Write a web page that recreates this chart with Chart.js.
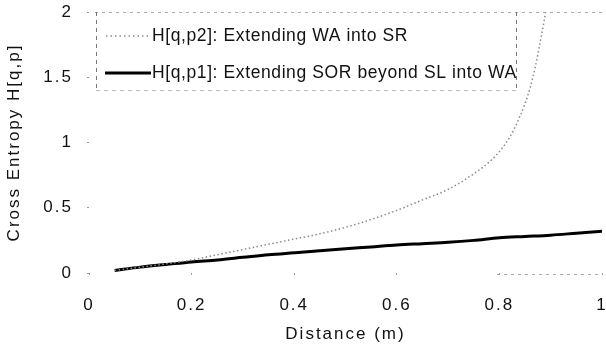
<!DOCTYPE html>
<html>
<head>
<meta charset="utf-8">
<script src="https://cdn.jsdelivr.net/npm/chart.js@4/dist/chart.umd.min.js"></script>
<style>
  html, body { margin: 0; padding: 0; background: #fff; overflow: hidden; }
  #wrap { width: 606px; height: 349px; }
</style>
</head>
<body>
<div id="wrap"><canvas id="entropyChart"></canvas></div>
<script>
// values
const distanceP1 = [0.05, 0.1, 0.15, 0.2, 0.25, 0.3, 0.35, 0.4, 0.45, 0.5, 0.55, 0.6, 0.65, 0.7, 0.75, 0.8, 0.85, 0.9, 0.95, 1.0];
const entropyP1 = [0.02, 0.045, 0.065, 0.085, 0.10, 0.12, 0.14, 0.155, 0.17, 0.185, 0.20, 0.215, 0.225, 0.235, 0.25, 0.27, 0.28, 0.29, 0.305, 0.32];

const distanceP2 = [0.05, 0.1, 0.15, 0.2, 0.25, 0.3, 0.35, 0.4, 0.45, 0.5, 0.55, 0.6, 0.65, 0.7, 0.75, 0.78, 0.8, 0.82, 0.84, 0.85, 0.86, 0.87, 0.88, 0.89, 0.9];
const entropyP2 = [0.02, 0.045, 0.07, 0.10, 0.14, 0.18, 0.22, 0.26, 0.30, 0.35, 0.41, 0.48, 0.56, 0.64, 0.76, 0.85, 0.93, 1.04, 1.2, 1.3, 1.42, 1.58, 1.78, 2.0, 2.3];

const xTicks = [0, 0.2, 0.4, 0.6, 0.8, 1];
const yTicks = [0, 0.5, 1, 1.5, 2];

const legendLabels = ['H[q,p2]: Extending WA into SR', 'H[q,p1]: Extending SOR beyond SL into WA'];

const FONT = '"Liberation Sans", Arial, sans-serif';

function toPoints(xs, ys) {
    return xs.map((x, i) => ({ x: x, y: ys[i] }));
}

// letter spacing like the scanned figure
const spacingPlugin = {
    id: 'spacing',
    beforeInit(chart) { chart.ctx.letterSpacing = '2px'; },
    beforeDraw(chart) { chart.ctx.letterSpacing = '2px'; }
};

// dashed frame bits + legend box inside the plot
const frameLegendPlugin = {
    id: 'frameLegend',
    afterDatasetsDraw(chart) {
        const ctx = chart.ctx;
        const area = chart.chartArea;
        ctx.save();
        ctx.letterSpacing = '0.6px';

        // faint dashed top edge
        ctx.strokeStyle = '#aaa';
        ctx.lineWidth = 1;
        ctx.setLineDash([3, 4]);
        ctx.beginPath();
        ctx.moveTo(area.left + 6, area.top + 0.5);
        ctx.lineTo(area.right, area.top + 0.5);
        ctx.moveTo(area.right - 105, area.bottom + 1.5);
        ctx.lineTo(area.right, area.bottom + 1.5);
        ctx.stroke();

        // legend box
        const bx = area.left + 7, by = area.top, bw = 420, bh = 78;
        ctx.strokeStyle = '#777';
        ctx.setLineDash([4, 4]);
        ctx.beginPath();
        ctx.moveTo(bx + 0.5, by);
        ctx.lineTo(bx + 0.5, by + bh);
        ctx.moveTo(bx + bw + 0.5, by);
        ctx.lineTo(bx + bw + 0.5, by + bh);
        ctx.stroke();
        ctx.strokeStyle = '#bbb';
        ctx.beginPath();
        ctx.moveTo(bx, by + bh + 0.5);
        ctx.lineTo(bx + bw, by + bh + 0.5);
        ctx.stroke();

        const rows = [by + 24, by + 61];
        const ds = chart.data.datasets;
        // p2 sample (dotted)
        ctx.strokeStyle = ds[0].borderColor;
        ctx.lineWidth = 1.5;
        ctx.setLineDash([1.5, 3]);
        ctx.beginPath();
        ctx.moveTo(bx + 10, rows[0]);
        ctx.lineTo(bx + 55, rows[0]);
        ctx.stroke();
        // p1 sample (solid)
        ctx.strokeStyle = ds[1].borderColor;
        ctx.lineWidth = 3;
        ctx.setLineDash([]);
        ctx.beginPath();
        ctx.moveTo(bx + 9, rows[1]);
        ctx.lineTo(bx + 55, rows[1]);
        ctx.stroke();

        ctx.fillStyle = '#111';
        ctx.font = '17.5px ' + FONT;
        ctx.textAlign = 'left';
        ctx.textBaseline = 'middle';
        ctx.fillText(legendLabels[0], bx + 56, rows[0]);
        ctx.fillText(legendLabels[1], bx + 56, rows[1]);
        ctx.restore();
    }
};

const ctx = document.getElementById('entropyChart').getContext('2d');
new Chart(ctx, {
    type: 'line',
    data: {
        datasets: [{
            label: legendLabels[0],
            data: toPoints(distanceP2, entropyP2),
            borderColor: '#8a8a8a',
            borderWidth: 1.5,
            borderDash: [1.5, 2.5],
            pointRadius: 0,
            cubicInterpolationMode: 'monotone',
            fill: false
        }, {
            label: legendLabels[1],
            data: toPoints(distanceP1, entropyP1),
            borderColor: '#000',
            borderWidth: 3,
            pointRadius: 0,
            cubicInterpolationMode: 'monotone',
            fill: false
        }]
    },
    options: {
        responsive: true,
        maintainAspectRatio: false,
        animation: false,
        events: [],
        layout: { padding: { top: 12, right: 4, left: 0, bottom: 0 } },
        plugins: {
            legend: { display: false },
            tooltip: { enabled: false }
        },
        scales: {
            x: {
                type: 'linear',
                min: 0,
                max: 1,
                afterBuildTicks: (axis) => { axis.ticks = xTicks.map(v => ({ value: v })); },
                afterFit: (axis) => {
                    axis.height = 76;
                    axis.paddingLeft = 0;
                    axis.paddingRight = 0;
                },
                grid: { drawOnChartArea: false, drawTicks: true, tickLength: 2, color: '#999' },
                border: { display: false },
                ticks: { color: '#111', font: { family: FONT, size: 17 }, padding: 20, maxRotation: 0, callback: (v) => String(v) },
                title: {
                    display: true,
                    text: 'Distance (m)',
                    color: '#111',
                    font: { family: FONT, size: 17 },
                    padding: { top: 0 }
                }
            },
            y: {
                min: 0,
                max: 2,
                afterBuildTicks: (axis) => { axis.ticks = yTicks.map(v => ({ value: v })); },
                afterFit: (axis) => {
                    axis.width = 89;
                    axis.paddingTop = 0;
                    axis.paddingBottom = 0;
                },
                grid: { drawOnChartArea: false, drawTicks: true, tickLength: 2, color: '#999' },
                border: { display: false },
                ticks: { color: '#111', font: { family: FONT, size: 17 }, padding: 14, callback: (v) => String(v) },
                title: {
                    display: true,
                    text: 'Cross Entropy H[q,p]',
                    color: '#111',
                    font: { family: FONT, size: 17 },
                    padding: { bottom: 0 }
                }
            }
        }
    },
    plugins: [spacingPlugin, frameLegendPlugin]
});
</script>
</body>
</html>
